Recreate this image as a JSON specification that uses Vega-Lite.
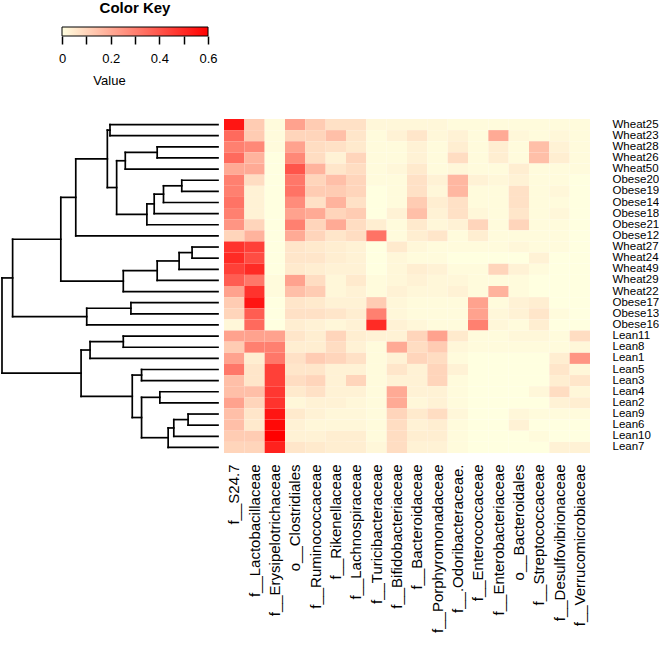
{
"$schema": "https://vega.github.io/schema/vega-lite/v6.json",
"padding": {"top": 0, "left": 0, "right": 0, "bottom": 0},
"background": "white",
"spacing": 31,
"config": {"view": {"stroke": null}, "font": "Liberation Sans", "axis": {"labelFont": "Liberation Sans", "titleFont": "Liberation Sans", "labelColor": "black", "titleColor": "black"}},
"datasets": {
"dendro": [
{"h1":3.25,"h2":3.25,"p1":0,"p2":1},{"h1":0,"h2":3.25,"p1":0,"p2":0},{"h1":0,"h2":3.25,"p1":1,"p2":1},
{"h1":1.83,"h2":1.83,"p1":2,"p2":3},{"h1":0,"h2":1.83,"p1":2,"p2":2},{"h1":0,"h2":1.83,"p1":3,"p2":3},
{"h1":2.79,"h2":2.79,"p1":2.5,"p2":4},{"h1":1.83,"h2":2.79,"p1":2.5,"p2":2.5},{"h1":0,"h2":2.79,"p1":4,"p2":4},
{"h1":1.09,"h2":1.09,"p1":5,"p2":6},{"h1":0,"h2":1.09,"p1":5,"p2":5},{"h1":0,"h2":1.09,"p1":6,"p2":6},
{"h1":1.64,"h2":1.64,"p1":5.5,"p2":7},{"h1":1.09,"h2":1.64,"p1":5.5,"p2":5.5},{"h1":0,"h2":1.64,"p1":7,"p2":7},
{"h1":1.92,"h2":1.92,"p1":6.25,"p2":8},{"h1":1.64,"h2":1.92,"p1":6.25,"p2":6.25},{"h1":0,"h2":1.92,"p1":8,"p2":8},
{"h1":2.14,"h2":2.14,"p1":7.125,"p2":9},{"h1":1.92,"h2":2.14,"p1":7.125,"p2":7.125},{"h1":0,"h2":2.14,"p1":9,"p2":9},
{"h1":3.05,"h2":3.05,"p1":3.25,"p2":8.0625},{"h1":2.79,"h2":3.05,"p1":3.25,"p2":3.25},{"h1":2.14,"h2":3.05,"p1":8.0625,"p2":8.0625},
{"h1":3.33,"h2":3.33,"p1":0.5,"p2":5.656},{"h1":3.25,"h2":3.33,"p1":0.5,"p2":0.5},{"h1":3.05,"h2":3.33,"p1":5.656,"p2":5.656},
{"h1":4.28,"h2":4.28,"p1":3.078,"p2":10},{"h1":3.33,"h2":4.28,"p1":3.078,"p2":3.078},{"h1":0,"h2":4.28,"p1":10,"p2":10},
{"h1":0.78,"h2":0.78,"p1":11,"p2":12},{"h1":0,"h2":0.78,"p1":11,"p2":11},{"h1":0,"h2":0.78,"p1":12,"p2":12},
{"h1":1.17,"h2":1.17,"p1":11.5,"p2":13},{"h1":0.78,"h2":1.17,"p1":11.5,"p2":11.5},{"h1":0,"h2":1.17,"p1":13,"p2":13},
{"h1":1.83,"h2":1.83,"p1":12.25,"p2":14},{"h1":1.17,"h2":1.83,"p1":12.25,"p2":12.25},{"h1":0,"h2":1.83,"p1":14,"p2":14},
{"h1":2.85,"h2":2.85,"p1":13.125,"p2":15},{"h1":1.83,"h2":2.85,"p1":13.125,"p2":13.125},{"h1":0,"h2":2.85,"p1":15,"p2":15},
{"h1":4.73,"h2":4.73,"p1":6.539,"p2":14.063},{"h1":4.28,"h2":4.73,"p1":6.539,"p2":6.539},{"h1":2.85,"h2":4.73,"p1":14.063,"p2":14.063},
{"h1":2.62,"h2":2.62,"p1":16,"p2":17},{"h1":0,"h2":2.62,"p1":16,"p2":16},{"h1":0,"h2":2.62,"p1":17,"p2":17},
{"h1":3.95,"h2":3.95,"p1":16.5,"p2":18},{"h1":2.62,"h2":3.95,"p1":16.5,"p2":16.5},{"h1":0,"h2":3.95,"p1":18,"p2":18},
{"h1":6.18,"h2":6.18,"p1":10.301,"p2":17.25},{"h1":4.73,"h2":6.18,"p1":10.301,"p2":10.301},{"h1":3.95,"h2":6.18,"p1":17.25,"p2":17.25},
{"h1":2.85,"h2":2.85,"p1":19,"p2":20},{"h1":0,"h2":2.85,"p1":19,"p2":19},{"h1":0,"h2":2.85,"p1":20,"p2":20},
{"h1":3.85,"h2":3.85,"p1":19.5,"p2":21},{"h1":2.85,"h2":3.85,"p1":19.5,"p2":19.5},{"h1":0,"h2":3.85,"p1":21,"p2":21},
{"h1":2.3,"h2":2.3,"p1":22,"p2":23},{"h1":0,"h2":2.3,"p1":22,"p2":22},{"h1":0,"h2":2.3,"p1":23,"p2":23},
{"h1":1.75,"h2":1.75,"p1":24,"p2":25},{"h1":0,"h2":1.75,"p1":24,"p2":24},{"h1":0,"h2":1.75,"p1":25,"p2":25},
{"h1":0.9,"h2":0.9,"p1":26,"p2":27},{"h1":0,"h2":0.9,"p1":26,"p2":26},{"h1":0,"h2":0.9,"p1":27,"p2":27},
{"h1":1.33,"h2":1.33,"p1":26.5,"p2":28},{"h1":0.9,"h2":1.33,"p1":26.5,"p2":26.5},{"h1":0,"h2":1.33,"p1":28,"p2":28},
{"h1":1.5,"h2":1.5,"p1":27.25,"p2":29},{"h1":1.33,"h2":1.5,"p1":27.25,"p2":27.25},{"h1":0,"h2":1.5,"p1":29,"p2":29},
{"h1":2.3,"h2":2.3,"p1":24.5,"p2":28.125},{"h1":1.75,"h2":2.3,"p1":24.5,"p2":24.5},{"h1":1.5,"h2":2.3,"p1":28.125,"p2":28.125},
{"h1":2.58,"h2":2.58,"p1":22.5,"p2":26.313},{"h1":2.3,"h2":2.58,"p1":22.5,"p2":22.5},{"h1":2.3,"h2":2.58,"p1":26.313,"p2":26.313},
{"h1":4.12,"h2":4.12,"p1":20.25,"p2":24.406},{"h1":3.85,"h2":4.12,"p1":20.25,"p2":20.25},{"h1":2.58,"h2":4.12,"p1":24.406,"p2":24.406},
{"h1":6.5,"h2":6.5,"p1":13.775,"p2":22.328},{"h1":6.18,"h2":6.5,"p1":13.775,"p2":13.775},{"h1":4.12,"h2":6.5,"p1":22.328,"p2":22.328}
],
"cells": [
{"s":"Wheat25","t":"f__S24.7","v":0.55},{"s":"Wheat25","t":"f__Lactobacillaceae","v":0.12},{"s":"Wheat25","t":"f__Erysipelotrichaceae","v":0.01},{"s":"Wheat25","t":"o__Clostridiales","v":0.22},{"s":"Wheat25","t":"f__Ruminococcaceae","v":0.12},{"s":"Wheat25","t":"f__Rikenellaceae","v":0.07},{"s":"Wheat25","t":"f__Lachnospiraceae","v":0.07},{"s":"Wheat25","t":"f__Turicibacteraceae","v":0.02},{"s":"Wheat25","t":"f__Bifidobacteriaceae","v":0.02},{"s":"Wheat25","t":"f__Bacteroidaceae","v":0.02},{"s":"Wheat25","t":"f__Porphyromonadaceae","v":0.02},{"s":"Wheat25","t":"f__.Odoribacteraceae.","v":0.01},{"s":"Wheat25","t":"f__Enterococcaceae","v":0.01},{"s":"Wheat25","t":"f__Enterobacteriaceae","v":0.01},{"s":"Wheat25","t":"o__Bacteroidales","v":0.01},{"s":"Wheat25","t":"f__Streptococcaceae","v":0.01},{"s":"Wheat25","t":"f__Desulfovibrionaceae","v":0.01},{"s":"Wheat25","t":"f__Verrucomicrobiaceae","v":0.01},
{"s":"Wheat23","t":"f__S24.7","v":0.35},{"s":"Wheat23","t":"f__Lactobacillaceae","v":0.12},{"s":"Wheat23","t":"f__Erysipelotrichaceae","v":0.01},{"s":"Wheat23","t":"o__Clostridiales","v":0.1},{"s":"Wheat23","t":"f__Ruminococcaceae","v":0.1},{"s":"Wheat23","t":"f__Rikenellaceae","v":0.15},{"s":"Wheat23","t":"f__Lachnospiraceae","v":0.06},{"s":"Wheat23","t":"f__Turicibacteraceae","v":0.01},{"s":"Wheat23","t":"f__Bifidobacteriaceae","v":0.03},{"s":"Wheat23","t":"f__Bacteroidaceae","v":0.06},{"s":"Wheat23","t":"f__Porphyromonadaceae","v":0.02},{"s":"Wheat23","t":"f__.Odoribacteraceae.","v":0.03},{"s":"Wheat23","t":"f__Enterococcaceae","v":0.01},{"s":"Wheat23","t":"f__Enterobacteriaceae","v":0.2},{"s":"Wheat23","t":"o__Bacteroidales","v":0.02},{"s":"Wheat23","t":"f__Streptococcaceae","v":0.01},{"s":"Wheat23","t":"f__Desulfovibrionaceae","v":0.02},{"s":"Wheat23","t":"f__Verrucomicrobiaceae","v":0.01},
{"s":"Wheat28","t":"f__S24.7","v":0.3},{"s":"Wheat28","t":"f__Lactobacillaceae","v":0.28},{"s":"Wheat28","t":"f__Erysipelotrichaceae","v":0.01},{"s":"Wheat28","t":"o__Clostridiales","v":0.22},{"s":"Wheat28","t":"f__Ruminococcaceae","v":0.08},{"s":"Wheat28","t":"f__Rikenellaceae","v":0.07},{"s":"Wheat28","t":"f__Lachnospiraceae","v":0.05},{"s":"Wheat28","t":"f__Turicibacteraceae","v":0.01},{"s":"Wheat28","t":"f__Bifidobacteriaceae","v":0.01},{"s":"Wheat28","t":"f__Bacteroidaceae","v":0.03},{"s":"Wheat28","t":"f__Porphyromonadaceae","v":0.01},{"s":"Wheat28","t":"f__.Odoribacteraceae.","v":0.04},{"s":"Wheat28","t":"f__Enterococcaceae","v":0.01},{"s":"Wheat28","t":"f__Enterobacteriaceae","v":0.04},{"s":"Wheat28","t":"o__Bacteroidales","v":0.01},{"s":"Wheat28","t":"f__Streptococcaceae","v":0.15},{"s":"Wheat28","t":"f__Desulfovibrionaceae","v":0.03},{"s":"Wheat28","t":"f__Verrucomicrobiaceae","v":0.01},
{"s":"Wheat26","t":"f__S24.7","v":0.35},{"s":"Wheat26","t":"f__Lactobacillaceae","v":0.18},{"s":"Wheat26","t":"f__Erysipelotrichaceae","v":0.0},{"s":"Wheat26","t":"o__Clostridiales","v":0.28},{"s":"Wheat26","t":"f__Ruminococcaceae","v":0.08},{"s":"Wheat26","t":"f__Rikenellaceae","v":0.03},{"s":"Wheat26","t":"f__Lachnospiraceae","v":0.1},{"s":"Wheat26","t":"f__Turicibacteraceae","v":0.01},{"s":"Wheat26","t":"f__Bifidobacteriaceae","v":0.01},{"s":"Wheat26","t":"f__Bacteroidaceae","v":0.03},{"s":"Wheat26","t":"f__Porphyromonadaceae","v":0.01},{"s":"Wheat26","t":"f__.Odoribacteraceae.","v":0.08},{"s":"Wheat26","t":"f__Enterococcaceae","v":0.01},{"s":"Wheat26","t":"f__Enterobacteriaceae","v":0.04},{"s":"Wheat26","t":"o__Bacteroidales","v":0.01},{"s":"Wheat26","t":"f__Streptococcaceae","v":0.15},{"s":"Wheat26","t":"f__Desulfovibrionaceae","v":0.04},{"s":"Wheat26","t":"f__Verrucomicrobiaceae","v":0.01},
{"s":"Wheat50","t":"f__S24.7","v":0.2},{"s":"Wheat50","t":"f__Lactobacillaceae","v":0.2},{"s":"Wheat50","t":"f__Erysipelotrichaceae","v":0.0},{"s":"Wheat50","t":"o__Clostridiales","v":0.4},{"s":"Wheat50","t":"f__Ruminococcaceae","v":0.18},{"s":"Wheat50","t":"f__Rikenellaceae","v":0.06},{"s":"Wheat50","t":"f__Lachnospiraceae","v":0.08},{"s":"Wheat50","t":"f__Turicibacteraceae","v":0.01},{"s":"Wheat50","t":"f__Bifidobacteriaceae","v":0.02},{"s":"Wheat50","t":"f__Bacteroidaceae","v":0.05},{"s":"Wheat50","t":"f__Porphyromonadaceae","v":0.01},{"s":"Wheat50","t":"f__.Odoribacteraceae.","v":0.02},{"s":"Wheat50","t":"f__Enterococcaceae","v":0.01},{"s":"Wheat50","t":"f__Enterobacteriaceae","v":0.01},{"s":"Wheat50","t":"o__Bacteroidales","v":0.04},{"s":"Wheat50","t":"f__Streptococcaceae","v":0.01},{"s":"Wheat50","t":"f__Desulfovibrionaceae","v":0.01},{"s":"Wheat50","t":"f__Verrucomicrobiaceae","v":0.01},
{"s":"Obese20","t":"f__S24.7","v":0.3},{"s":"Obese20","t":"f__Lactobacillaceae","v":0.08},{"s":"Obese20","t":"f__Erysipelotrichaceae","v":0.0},{"s":"Obese20","t":"o__Clostridiales","v":0.32},{"s":"Obese20","t":"f__Ruminococcaceae","v":0.1},{"s":"Obese20","t":"f__Rikenellaceae","v":0.15},{"s":"Obese20","t":"f__Lachnospiraceae","v":0.1},{"s":"Obese20","t":"f__Turicibacteraceae","v":0.01},{"s":"Obese20","t":"f__Bifidobacteriaceae","v":0.01},{"s":"Obese20","t":"f__Bacteroidaceae","v":0.07},{"s":"Obese20","t":"f__Porphyromonadaceae","v":0.03},{"s":"Obese20","t":"f__.Odoribacteraceae.","v":0.17},{"s":"Obese20","t":"f__Enterococcaceae","v":0.03},{"s":"Obese20","t":"f__Enterobacteriaceae","v":0.02},{"s":"Obese20","t":"o__Bacteroidales","v":0.03},{"s":"Obese20","t":"f__Streptococcaceae","v":0.01},{"s":"Obese20","t":"f__Desulfovibrionaceae","v":0.01},{"s":"Obese20","t":"f__Verrucomicrobiaceae","v":0.0},
{"s":"Obese19","t":"f__S24.7","v":0.3},{"s":"Obese19","t":"f__Lactobacillaceae","v":0.03},{"s":"Obese19","t":"f__Erysipelotrichaceae","v":0.0},{"s":"Obese19","t":"o__Clostridiales","v":0.33},{"s":"Obese19","t":"f__Ruminococcaceae","v":0.12},{"s":"Obese19","t":"f__Rikenellaceae","v":0.12},{"s":"Obese19","t":"f__Lachnospiraceae","v":0.1},{"s":"Obese19","t":"f__Turicibacteraceae","v":0.0},{"s":"Obese19","t":"f__Bifidobacteriaceae","v":0.01},{"s":"Obese19","t":"f__Bacteroidaceae","v":0.07},{"s":"Obese19","t":"f__Porphyromonadaceae","v":0.02},{"s":"Obese19","t":"f__.Odoribacteraceae.","v":0.17},{"s":"Obese19","t":"f__Enterococcaceae","v":0.01},{"s":"Obese19","t":"f__Enterobacteriaceae","v":0.01},{"s":"Obese19","t":"o__Bacteroidales","v":0.07},{"s":"Obese19","t":"f__Streptococcaceae","v":0.01},{"s":"Obese19","t":"f__Desulfovibrionaceae","v":0.02},{"s":"Obese19","t":"f__Verrucomicrobiaceae","v":0.0},
{"s":"Obese14","t":"f__S24.7","v":0.33},{"s":"Obese14","t":"f__Lactobacillaceae","v":0.03},{"s":"Obese14","t":"f__Erysipelotrichaceae","v":0.0},{"s":"Obese14","t":"o__Clostridiales","v":0.27},{"s":"Obese14","t":"f__Ruminococcaceae","v":0.07},{"s":"Obese14","t":"f__Rikenellaceae","v":0.18},{"s":"Obese14","t":"f__Lachnospiraceae","v":0.07},{"s":"Obese14","t":"f__Turicibacteraceae","v":0.0},{"s":"Obese14","t":"f__Bifidobacteriaceae","v":0.01},{"s":"Obese14","t":"f__Bacteroidaceae","v":0.12},{"s":"Obese14","t":"f__Porphyromonadaceae","v":0.04},{"s":"Obese14","t":"f__.Odoribacteraceae.","v":0.07},{"s":"Obese14","t":"f__Enterococcaceae","v":0.01},{"s":"Obese14","t":"f__Enterobacteriaceae","v":0.01},{"s":"Obese14","t":"o__Bacteroidales","v":0.07},{"s":"Obese14","t":"f__Streptococcaceae","v":0.01},{"s":"Obese14","t":"f__Desulfovibrionaceae","v":0.01},{"s":"Obese14","t":"f__Verrucomicrobiaceae","v":0.0},
{"s":"Obese18","t":"f__S24.7","v":0.3},{"s":"Obese18","t":"f__Lactobacillaceae","v":0.03},{"s":"Obese18","t":"f__Erysipelotrichaceae","v":0.0},{"s":"Obese18","t":"o__Clostridiales","v":0.22},{"s":"Obese18","t":"f__Ruminococcaceae","v":0.2},{"s":"Obese18","t":"f__Rikenellaceae","v":0.1},{"s":"Obese18","t":"f__Lachnospiraceae","v":0.12},{"s":"Obese18","t":"f__Turicibacteraceae","v":0.0},{"s":"Obese18","t":"f__Bifidobacteriaceae","v":0.03},{"s":"Obese18","t":"f__Bacteroidaceae","v":0.15},{"s":"Obese18","t":"f__Porphyromonadaceae","v":0.03},{"s":"Obese18","t":"f__.Odoribacteraceae.","v":0.07},{"s":"Obese18","t":"f__Enterococcaceae","v":0.02},{"s":"Obese18","t":"f__Enterobacteriaceae","v":0.01},{"s":"Obese18","t":"o__Bacteroidales","v":0.06},{"s":"Obese18","t":"f__Streptococcaceae","v":0.01},{"s":"Obese18","t":"f__Desulfovibrionaceae","v":0.02},{"s":"Obese18","t":"f__Verrucomicrobiaceae","v":0.0},
{"s":"Obese21","t":"f__S24.7","v":0.25},{"s":"Obese21","t":"f__Lactobacillaceae","v":0.1},{"s":"Obese21","t":"f__Erysipelotrichaceae","v":0.0},{"s":"Obese21","t":"o__Clostridiales","v":0.3},{"s":"Obese21","t":"f__Ruminococcaceae","v":0.1},{"s":"Obese21","t":"f__Rikenellaceae","v":0.2},{"s":"Obese21","t":"f__Lachnospiraceae","v":0.08},{"s":"Obese21","t":"f__Turicibacteraceae","v":0.04},{"s":"Obese21","t":"f__Bifidobacteriaceae","v":0.01},{"s":"Obese21","t":"f__Bacteroidaceae","v":0.05},{"s":"Obese21","t":"f__Porphyromonadaceae","v":0.02},{"s":"Obese21","t":"f__.Odoribacteraceae.","v":0.03},{"s":"Obese21","t":"f__Enterococcaceae","v":0.1},{"s":"Obese21","t":"f__Enterobacteriaceae","v":0.01},{"s":"Obese21","t":"o__Bacteroidales","v":0.1},{"s":"Obese21","t":"f__Streptococcaceae","v":0.01},{"s":"Obese21","t":"f__Desulfovibrionaceae","v":0.01},{"s":"Obese21","t":"f__Verrucomicrobiaceae","v":0.0},
{"s":"Obese12","t":"f__S24.7","v":0.1},{"s":"Obese12","t":"f__Lactobacillaceae","v":0.18},{"s":"Obese12","t":"f__Erysipelotrichaceae","v":0.0},{"s":"Obese12","t":"o__Clostridiales","v":0.2},{"s":"Obese12","t":"f__Ruminococcaceae","v":0.1},{"s":"Obese12","t":"f__Rikenellaceae","v":0.06},{"s":"Obese12","t":"f__Lachnospiraceae","v":0.08},{"s":"Obese12","t":"f__Turicibacteraceae","v":0.33},{"s":"Obese12","t":"f__Bifidobacteriaceae","v":0.01},{"s":"Obese12","t":"f__Bacteroidaceae","v":0.04},{"s":"Obese12","t":"f__Porphyromonadaceae","v":0.06},{"s":"Obese12","t":"f__.Odoribacteraceae.","v":0.01},{"s":"Obese12","t":"f__Enterococcaceae","v":0.04},{"s":"Obese12","t":"f__Enterobacteriaceae","v":0.01},{"s":"Obese12","t":"o__Bacteroidales","v":0.01},{"s":"Obese12","t":"f__Streptococcaceae","v":0.01},{"s":"Obese12","t":"f__Desulfovibrionaceae","v":0.01},{"s":"Obese12","t":"f__Verrucomicrobiaceae","v":0.0},
{"s":"Wheat27","t":"f__S24.7","v":0.48},{"s":"Wheat27","t":"f__Lactobacillaceae","v":0.45},{"s":"Wheat27","t":"f__Erysipelotrichaceae","v":0.0},{"s":"Wheat27","t":"o__Clostridiales","v":0.06},{"s":"Wheat27","t":"f__Ruminococcaceae","v":0.05},{"s":"Wheat27","t":"f__Rikenellaceae","v":0.04},{"s":"Wheat27","t":"f__Lachnospiraceae","v":0.03},{"s":"Wheat27","t":"f__Turicibacteraceae","v":0.0},{"s":"Wheat27","t":"f__Bifidobacteriaceae","v":0.05},{"s":"Wheat27","t":"f__Bacteroidaceae","v":0.02},{"s":"Wheat27","t":"f__Porphyromonadaceae","v":0.01},{"s":"Wheat27","t":"f__.Odoribacteraceae.","v":0.01},{"s":"Wheat27","t":"f__Enterococcaceae","v":0.01},{"s":"Wheat27","t":"f__Enterobacteriaceae","v":0.01},{"s":"Wheat27","t":"o__Bacteroidales","v":0.02},{"s":"Wheat27","t":"f__Streptococcaceae","v":0.01},{"s":"Wheat27","t":"f__Desulfovibrionaceae","v":0.01},{"s":"Wheat27","t":"f__Verrucomicrobiaceae","v":0.0},
{"s":"Wheat24","t":"f__S24.7","v":0.5},{"s":"Wheat24","t":"f__Lactobacillaceae","v":0.42},{"s":"Wheat24","t":"f__Erysipelotrichaceae","v":0.0},{"s":"Wheat24","t":"o__Clostridiales","v":0.06},{"s":"Wheat24","t":"f__Ruminococcaceae","v":0.06},{"s":"Wheat24","t":"f__Rikenellaceae","v":0.04},{"s":"Wheat24","t":"f__Lachnospiraceae","v":0.03},{"s":"Wheat24","t":"f__Turicibacteraceae","v":0.0},{"s":"Wheat24","t":"f__Bifidobacteriaceae","v":0.02},{"s":"Wheat24","t":"f__Bacteroidaceae","v":0.01},{"s":"Wheat24","t":"f__Porphyromonadaceae","v":0.01},{"s":"Wheat24","t":"f__.Odoribacteraceae.","v":0.0},{"s":"Wheat24","t":"f__Enterococcaceae","v":0.0},{"s":"Wheat24","t":"f__Enterobacteriaceae","v":0.0},{"s":"Wheat24","t":"o__Bacteroidales","v":0.0},{"s":"Wheat24","t":"f__Streptococcaceae","v":0.03},{"s":"Wheat24","t":"f__Desulfovibrionaceae","v":0.0},{"s":"Wheat24","t":"f__Verrucomicrobiaceae","v":0.0},
{"s":"Wheat49","t":"f__S24.7","v":0.45},{"s":"Wheat49","t":"f__Lactobacillaceae","v":0.5},{"s":"Wheat49","t":"f__Erysipelotrichaceae","v":0.0},{"s":"Wheat49","t":"o__Clostridiales","v":0.05},{"s":"Wheat49","t":"f__Ruminococcaceae","v":0.04},{"s":"Wheat49","t":"f__Rikenellaceae","v":0.03},{"s":"Wheat49","t":"f__Lachnospiraceae","v":0.03},{"s":"Wheat49","t":"f__Turicibacteraceae","v":0.0},{"s":"Wheat49","t":"f__Bifidobacteriaceae","v":0.02},{"s":"Wheat49","t":"f__Bacteroidaceae","v":0.04},{"s":"Wheat49","t":"f__Porphyromonadaceae","v":0.03},{"s":"Wheat49","t":"f__.Odoribacteraceae.","v":0.01},{"s":"Wheat49","t":"f__Enterococcaceae","v":0.01},{"s":"Wheat49","t":"f__Enterobacteriaceae","v":0.1},{"s":"Wheat49","t":"o__Bacteroidales","v":0.03},{"s":"Wheat49","t":"f__Streptococcaceae","v":0.01},{"s":"Wheat49","t":"f__Desulfovibrionaceae","v":0.0},{"s":"Wheat49","t":"f__Verrucomicrobiaceae","v":0.0},
{"s":"Wheat29","t":"f__S24.7","v":0.38},{"s":"Wheat29","t":"f__Lactobacillaceae","v":0.32},{"s":"Wheat29","t":"f__Erysipelotrichaceae","v":0.01},{"s":"Wheat29","t":"o__Clostridiales","v":0.22},{"s":"Wheat29","t":"f__Ruminococcaceae","v":0.08},{"s":"Wheat29","t":"f__Rikenellaceae","v":0.02},{"s":"Wheat29","t":"f__Lachnospiraceae","v":0.05},{"s":"Wheat29","t":"f__Turicibacteraceae","v":0.01},{"s":"Wheat29","t":"f__Bifidobacteriaceae","v":0.02},{"s":"Wheat29","t":"f__Bacteroidaceae","v":0.03},{"s":"Wheat29","t":"f__Porphyromonadaceae","v":0.02},{"s":"Wheat29","t":"f__.Odoribacteraceae.","v":0.02},{"s":"Wheat29","t":"f__Enterococcaceae","v":0.01},{"s":"Wheat29","t":"f__Enterobacteriaceae","v":0.01},{"s":"Wheat29","t":"o__Bacteroidales","v":0.01},{"s":"Wheat29","t":"f__Streptococcaceae","v":0.0},{"s":"Wheat29","t":"f__Desulfovibrionaceae","v":0.0},{"s":"Wheat29","t":"f__Verrucomicrobiaceae","v":0.0},
{"s":"Wheat22","t":"f__S24.7","v":0.22},{"s":"Wheat22","t":"f__Lactobacillaceae","v":0.48},{"s":"Wheat22","t":"f__Erysipelotrichaceae","v":0.01},{"s":"Wheat22","t":"o__Clostridiales","v":0.15},{"s":"Wheat22","t":"f__Ruminococcaceae","v":0.12},{"s":"Wheat22","t":"f__Rikenellaceae","v":0.02},{"s":"Wheat22","t":"f__Lachnospiraceae","v":0.03},{"s":"Wheat22","t":"f__Turicibacteraceae","v":0.01},{"s":"Wheat22","t":"f__Bifidobacteriaceae","v":0.03},{"s":"Wheat22","t":"f__Bacteroidaceae","v":0.02},{"s":"Wheat22","t":"f__Porphyromonadaceae","v":0.02},{"s":"Wheat22","t":"f__.Odoribacteraceae.","v":0.03},{"s":"Wheat22","t":"f__Enterococcaceae","v":0.01},{"s":"Wheat22","t":"f__Enterobacteriaceae","v":0.18},{"s":"Wheat22","t":"o__Bacteroidales","v":0.01},{"s":"Wheat22","t":"f__Streptococcaceae","v":0.0},{"s":"Wheat22","t":"f__Desulfovibrionaceae","v":0.0},{"s":"Wheat22","t":"f__Verrucomicrobiaceae","v":0.0},
{"s":"Obese17","t":"f__S24.7","v":0.12},{"s":"Obese17","t":"f__Lactobacillaceae","v":0.55},{"s":"Obese17","t":"f__Erysipelotrichaceae","v":0.0},{"s":"Obese17","t":"o__Clostridiales","v":0.06},{"s":"Obese17","t":"f__Ruminococcaceae","v":0.05},{"s":"Obese17","t":"f__Rikenellaceae","v":0.03},{"s":"Obese17","t":"f__Lachnospiraceae","v":0.03},{"s":"Obese17","t":"f__Turicibacteraceae","v":0.12},{"s":"Obese17","t":"f__Bifidobacteriaceae","v":0.02},{"s":"Obese17","t":"f__Bacteroidaceae","v":0.01},{"s":"Obese17","t":"f__Porphyromonadaceae","v":0.01},{"s":"Obese17","t":"f__.Odoribacteraceae.","v":0.01},{"s":"Obese17","t":"f__Enterococcaceae","v":0.22},{"s":"Obese17","t":"f__Enterobacteriaceae","v":0.01},{"s":"Obese17","t":"o__Bacteroidales","v":0.03},{"s":"Obese17","t":"f__Streptococcaceae","v":0.04},{"s":"Obese17","t":"f__Desulfovibrionaceae","v":0.0},{"s":"Obese17","t":"f__Verrucomicrobiaceae","v":0.0},
{"s":"Obese13","t":"f__S24.7","v":0.1},{"s":"Obese13","t":"f__Lactobacillaceae","v":0.38},{"s":"Obese13","t":"f__Erysipelotrichaceae","v":0.0},{"s":"Obese13","t":"o__Clostridiales","v":0.07},{"s":"Obese13","t":"f__Ruminococcaceae","v":0.07},{"s":"Obese13","t":"f__Rikenellaceae","v":0.06},{"s":"Obese13","t":"f__Lachnospiraceae","v":0.04},{"s":"Obese13","t":"f__Turicibacteraceae","v":0.3},{"s":"Obese13","t":"f__Bifidobacteriaceae","v":0.02},{"s":"Obese13","t":"f__Bacteroidaceae","v":0.01},{"s":"Obese13","t":"f__Porphyromonadaceae","v":0.01},{"s":"Obese13","t":"f__.Odoribacteraceae.","v":0.01},{"s":"Obese13","t":"f__Enterococcaceae","v":0.22},{"s":"Obese13","t":"f__Enterobacteriaceae","v":0.02},{"s":"Obese13","t":"o__Bacteroidales","v":0.03},{"s":"Obese13","t":"f__Streptococcaceae","v":0.06},{"s":"Obese13","t":"f__Desulfovibrionaceae","v":0.01},{"s":"Obese13","t":"f__Verrucomicrobiaceae","v":0.0},
{"s":"Obese16","t":"f__S24.7","v":0.02},{"s":"Obese16","t":"f__Lactobacillaceae","v":0.35},{"s":"Obese16","t":"f__Erysipelotrichaceae","v":0.0},{"s":"Obese16","t":"o__Clostridiales","v":0.04},{"s":"Obese16","t":"f__Ruminococcaceae","v":0.03},{"s":"Obese16","t":"f__Rikenellaceae","v":0.02},{"s":"Obese16","t":"f__Lachnospiraceae","v":0.03},{"s":"Obese16","t":"f__Turicibacteraceae","v":0.5},{"s":"Obese16","t":"f__Bifidobacteriaceae","v":0.03},{"s":"Obese16","t":"f__Bacteroidaceae","v":0.02},{"s":"Obese16","t":"f__Porphyromonadaceae","v":0.01},{"s":"Obese16","t":"f__.Odoribacteraceae.","v":0.01},{"s":"Obese16","t":"f__Enterococcaceae","v":0.3},{"s":"Obese16","t":"f__Enterobacteriaceae","v":0.02},{"s":"Obese16","t":"o__Bacteroidales","v":0.01},{"s":"Obese16","t":"f__Streptococcaceae","v":0.04},{"s":"Obese16","t":"f__Desulfovibrionaceae","v":0.0},{"s":"Obese16","t":"f__Verrucomicrobiaceae","v":0.0},
{"s":"Lean11","t":"f__S24.7","v":0.22},{"s":"Lean11","t":"f__Lactobacillaceae","v":0.22},{"s":"Lean11","t":"f__Erysipelotrichaceae","v":0.22},{"s":"Lean11","t":"o__Clostridiales","v":0.06},{"s":"Lean11","t":"f__Ruminococcaceae","v":0.04},{"s":"Lean11","t":"f__Rikenellaceae","v":0.1},{"s":"Lean11","t":"f__Lachnospiraceae","v":0.04},{"s":"Lean11","t":"f__Turicibacteraceae","v":0.03},{"s":"Lean11","t":"f__Bifidobacteriaceae","v":0.03},{"s":"Lean11","t":"f__Bacteroidaceae","v":0.1},{"s":"Lean11","t":"f__Porphyromonadaceae","v":0.22},{"s":"Lean11","t":"f__.Odoribacteraceae.","v":0.05},{"s":"Lean11","t":"f__Enterococcaceae","v":0.01},{"s":"Lean11","t":"f__Enterobacteriaceae","v":0.01},{"s":"Lean11","t":"o__Bacteroidales","v":0.02},{"s":"Lean11","t":"f__Streptococcaceae","v":0.02},{"s":"Lean11","t":"f__Desulfovibrionaceae","v":0.01},{"s":"Lean11","t":"f__Verrucomicrobiaceae","v":0.08},
{"s":"Lean8","t":"f__S24.7","v":0.12},{"s":"Lean8","t":"f__Lactobacillaceae","v":0.3},{"s":"Lean8","t":"f__Erysipelotrichaceae","v":0.3},{"s":"Lean8","t":"o__Clostridiales","v":0.04},{"s":"Lean8","t":"f__Ruminococcaceae","v":0.04},{"s":"Lean8","t":"f__Rikenellaceae","v":0.08},{"s":"Lean8","t":"f__Lachnospiraceae","v":0.03},{"s":"Lean8","t":"f__Turicibacteraceae","v":0.01},{"s":"Lean8","t":"f__Bifidobacteriaceae","v":0.2},{"s":"Lean8","t":"f__Bacteroidaceae","v":0.08},{"s":"Lean8","t":"f__Porphyromonadaceae","v":0.12},{"s":"Lean8","t":"f__.Odoribacteraceae.","v":0.02},{"s":"Lean8","t":"f__Enterococcaceae","v":0.01},{"s":"Lean8","t":"f__Enterobacteriaceae","v":0.01},{"s":"Lean8","t":"o__Bacteroidales","v":0.01},{"s":"Lean8","t":"f__Streptococcaceae","v":0.01},{"s":"Lean8","t":"f__Desulfovibrionaceae","v":0.01},{"s":"Lean8","t":"f__Verrucomicrobiaceae","v":0.02},
{"s":"Lean1","t":"f__S24.7","v":0.22},{"s":"Lean1","t":"f__Lactobacillaceae","v":0.04},{"s":"Lean1","t":"f__Erysipelotrichaceae","v":0.32},{"s":"Lean1","t":"o__Clostridiales","v":0.07},{"s":"Lean1","t":"f__Ruminococcaceae","v":0.12},{"s":"Lean1","t":"f__Rikenellaceae","v":0.1},{"s":"Lean1","t":"f__Lachnospiraceae","v":0.07},{"s":"Lean1","t":"f__Turicibacteraceae","v":0.01},{"s":"Lean1","t":"f__Bifidobacteriaceae","v":0.03},{"s":"Lean1","t":"f__Bacteroidaceae","v":0.1},{"s":"Lean1","t":"f__Porphyromonadaceae","v":0.08},{"s":"Lean1","t":"f__.Odoribacteraceae.","v":0.01},{"s":"Lean1","t":"f__Enterococcaceae","v":0.0},{"s":"Lean1","t":"f__Enterobacteriaceae","v":0.0},{"s":"Lean1","t":"o__Bacteroidales","v":0.0},{"s":"Lean1","t":"f__Streptococcaceae","v":0.0},{"s":"Lean1","t":"f__Desulfovibrionaceae","v":0.04},{"s":"Lean1","t":"f__Verrucomicrobiaceae","v":0.25},
{"s":"Lean5","t":"f__S24.7","v":0.32},{"s":"Lean5","t":"f__Lactobacillaceae","v":0.06},{"s":"Lean5","t":"f__Erysipelotrichaceae","v":0.45},{"s":"Lean5","t":"o__Clostridiales","v":0.06},{"s":"Lean5","t":"f__Ruminococcaceae","v":0.06},{"s":"Lean5","t":"f__Rikenellaceae","v":0.03},{"s":"Lean5","t":"f__Lachnospiraceae","v":0.03},{"s":"Lean5","t":"f__Turicibacteraceae","v":0.01},{"s":"Lean5","t":"f__Bifidobacteriaceae","v":0.06},{"s":"Lean5","t":"f__Bacteroidaceae","v":0.03},{"s":"Lean5","t":"f__Porphyromonadaceae","v":0.1},{"s":"Lean5","t":"f__.Odoribacteraceae.","v":0.03},{"s":"Lean5","t":"f__Enterococcaceae","v":0.0},{"s":"Lean5","t":"f__Enterobacteriaceae","v":0.0},{"s":"Lean5","t":"o__Bacteroidales","v":0.0},{"s":"Lean5","t":"f__Streptococcaceae","v":0.0},{"s":"Lean5","t":"f__Desulfovibrionaceae","v":0.06},{"s":"Lean5","t":"f__Verrucomicrobiaceae","v":0.02},
{"s":"Lean3","t":"f__S24.7","v":0.15},{"s":"Lean3","t":"f__Lactobacillaceae","v":0.06},{"s":"Lean3","t":"f__Erysipelotrichaceae","v":0.45},{"s":"Lean3","t":"o__Clostridiales","v":0.08},{"s":"Lean3","t":"f__Ruminococcaceae","v":0.1},{"s":"Lean3","t":"f__Rikenellaceae","v":0.03},{"s":"Lean3","t":"f__Lachnospiraceae","v":0.1},{"s":"Lean3","t":"f__Turicibacteraceae","v":0.01},{"s":"Lean3","t":"f__Bifidobacteriaceae","v":0.03},{"s":"Lean3","t":"f__Bacteroidaceae","v":0.03},{"s":"Lean3","t":"f__Porphyromonadaceae","v":0.1},{"s":"Lean3","t":"f__.Odoribacteraceae.","v":0.01},{"s":"Lean3","t":"f__Enterococcaceae","v":0.0},{"s":"Lean3","t":"f__Enterobacteriaceae","v":0.0},{"s":"Lean3","t":"o__Bacteroidales","v":0.0},{"s":"Lean3","t":"f__Streptococcaceae","v":0.0},{"s":"Lean3","t":"f__Desulfovibrionaceae","v":0.04},{"s":"Lean3","t":"f__Verrucomicrobiaceae","v":0.06},
{"s":"Lean4","t":"f__S24.7","v":0.15},{"s":"Lean4","t":"f__Lactobacillaceae","v":0.15},{"s":"Lean4","t":"f__Erysipelotrichaceae","v":0.47},{"s":"Lean4","t":"o__Clostridiales","v":0.05},{"s":"Lean4","t":"f__Ruminococcaceae","v":0.07},{"s":"Lean4","t":"f__Rikenellaceae","v":0.03},{"s":"Lean4","t":"f__Lachnospiraceae","v":0.03},{"s":"Lean4","t":"f__Turicibacteraceae","v":0.01},{"s":"Lean4","t":"f__Bifidobacteriaceae","v":0.2},{"s":"Lean4","t":"f__Bacteroidaceae","v":0.03},{"s":"Lean4","t":"f__Porphyromonadaceae","v":0.03},{"s":"Lean4","t":"f__.Odoribacteraceae.","v":0.01},{"s":"Lean4","t":"f__Enterococcaceae","v":0.0},{"s":"Lean4","t":"f__Enterobacteriaceae","v":0.0},{"s":"Lean4","t":"o__Bacteroidales","v":0.0},{"s":"Lean4","t":"f__Streptococcaceae","v":0.02},{"s":"Lean4","t":"f__Desulfovibrionaceae","v":0.08},{"s":"Lean4","t":"f__Verrucomicrobiaceae","v":0.02},
{"s":"Lean2","t":"f__S24.7","v":0.22},{"s":"Lean2","t":"f__Lactobacillaceae","v":0.1},{"s":"Lean2","t":"f__Erysipelotrichaceae","v":0.48},{"s":"Lean2","t":"o__Clostridiales","v":0.02},{"s":"Lean2","t":"f__Ruminococcaceae","v":0.03},{"s":"Lean2","t":"f__Rikenellaceae","v":0.03},{"s":"Lean2","t":"f__Lachnospiraceae","v":0.02},{"s":"Lean2","t":"f__Turicibacteraceae","v":0.01},{"s":"Lean2","t":"f__Bifidobacteriaceae","v":0.2},{"s":"Lean2","t":"f__Bacteroidaceae","v":0.02},{"s":"Lean2","t":"f__Porphyromonadaceae","v":0.03},{"s":"Lean2","t":"f__.Odoribacteraceae.","v":0.01},{"s":"Lean2","t":"f__Enterococcaceae","v":0.0},{"s":"Lean2","t":"f__Enterobacteriaceae","v":0.0},{"s":"Lean2","t":"o__Bacteroidales","v":0.0},{"s":"Lean2","t":"f__Streptococcaceae","v":0.0},{"s":"Lean2","t":"f__Desulfovibrionaceae","v":0.03},{"s":"Lean2","t":"f__Verrucomicrobiaceae","v":0.04},
{"s":"Lean9","t":"f__S24.7","v":0.15},{"s":"Lean9","t":"f__Lactobacillaceae","v":0.06},{"s":"Lean9","t":"f__Erysipelotrichaceae","v":0.55},{"s":"Lean9","t":"o__Clostridiales","v":0.05},{"s":"Lean9","t":"f__Ruminococcaceae","v":0.03},{"s":"Lean9","t":"f__Rikenellaceae","v":0.02},{"s":"Lean9","t":"f__Lachnospiraceae","v":0.02},{"s":"Lean9","t":"f__Turicibacteraceae","v":0.01},{"s":"Lean9","t":"f__Bifidobacteriaceae","v":0.1},{"s":"Lean9","t":"f__Bacteroidaceae","v":0.05},{"s":"Lean9","t":"f__Porphyromonadaceae","v":0.08},{"s":"Lean9","t":"f__.Odoribacteraceae.","v":0.02},{"s":"Lean9","t":"f__Enterococcaceae","v":0.0},{"s":"Lean9","t":"f__Enterobacteriaceae","v":0.0},{"s":"Lean9","t":"o__Bacteroidales","v":0.02},{"s":"Lean9","t":"f__Streptococcaceae","v":0.01},{"s":"Lean9","t":"f__Desulfovibrionaceae","v":0.01},{"s":"Lean9","t":"f__Verrucomicrobiaceae","v":0.01},
{"s":"Lean6","t":"f__S24.7","v":0.15},{"s":"Lean6","t":"f__Lactobacillaceae","v":0.05},{"s":"Lean6","t":"f__Erysipelotrichaceae","v":0.58},{"s":"Lean6","t":"o__Clostridiales","v":0.03},{"s":"Lean6","t":"f__Ruminococcaceae","v":0.02},{"s":"Lean6","t":"f__Rikenellaceae","v":0.02},{"s":"Lean6","t":"f__Lachnospiraceae","v":0.02},{"s":"Lean6","t":"f__Turicibacteraceae","v":0.01},{"s":"Lean6","t":"f__Bifidobacteriaceae","v":0.08},{"s":"Lean6","t":"f__Bacteroidaceae","v":0.03},{"s":"Lean6","t":"f__Porphyromonadaceae","v":0.04},{"s":"Lean6","t":"f__.Odoribacteraceae.","v":0.01},{"s":"Lean6","t":"f__Enterococcaceae","v":0.0},{"s":"Lean6","t":"f__Enterobacteriaceae","v":0.0},{"s":"Lean6","t":"o__Bacteroidales","v":0.03},{"s":"Lean6","t":"f__Streptococcaceae","v":0.0},{"s":"Lean6","t":"f__Desulfovibrionaceae","v":0.0},{"s":"Lean6","t":"f__Verrucomicrobiaceae","v":0.0},
{"s":"Lean10","t":"f__S24.7","v":0.12},{"s":"Lean10","t":"f__Lactobacillaceae","v":0.12},{"s":"Lean10","t":"f__Erysipelotrichaceae","v":0.6},{"s":"Lean10","t":"o__Clostridiales","v":0.03},{"s":"Lean10","t":"f__Ruminococcaceae","v":0.03},{"s":"Lean10","t":"f__Rikenellaceae","v":0.04},{"s":"Lean10","t":"f__Lachnospiraceae","v":0.04},{"s":"Lean10","t":"f__Turicibacteraceae","v":0.01},{"s":"Lean10","t":"f__Bifidobacteriaceae","v":0.08},{"s":"Lean10","t":"f__Bacteroidaceae","v":0.04},{"s":"Lean10","t":"f__Porphyromonadaceae","v":0.04},{"s":"Lean10","t":"f__.Odoribacteraceae.","v":0.01},{"s":"Lean10","t":"f__Enterococcaceae","v":0.0},{"s":"Lean10","t":"f__Enterobacteriaceae","v":0.0},{"s":"Lean10","t":"o__Bacteroidales","v":0.0},{"s":"Lean10","t":"f__Streptococcaceae","v":0.01},{"s":"Lean10","t":"f__Desulfovibrionaceae","v":0.0},{"s":"Lean10","t":"f__Verrucomicrobiaceae","v":0.0},
{"s":"Lean7","t":"f__S24.7","v":0.1},{"s":"Lean7","t":"f__Lactobacillaceae","v":0.1},{"s":"Lean7","t":"f__Erysipelotrichaceae","v":0.52},{"s":"Lean7","t":"o__Clostridiales","v":0.06},{"s":"Lean7","t":"f__Ruminococcaceae","v":0.05},{"s":"Lean7","t":"f__Rikenellaceae","v":0.04},{"s":"Lean7","t":"f__Lachnospiraceae","v":0.04},{"s":"Lean7","t":"f__Turicibacteraceae","v":0.02},{"s":"Lean7","t":"f__Bifidobacteriaceae","v":0.08},{"s":"Lean7","t":"f__Bacteroidaceae","v":0.03},{"s":"Lean7","t":"f__Porphyromonadaceae","v":0.03},{"s":"Lean7","t":"f__.Odoribacteraceae.","v":0.01},{"s":"Lean7","t":"f__Enterococcaceae","v":0.0},{"s":"Lean7","t":"f__Enterobacteriaceae","v":0.0},{"s":"Lean7","t":"o__Bacteroidales","v":0.0},{"s":"Lean7","t":"f__Streptococcaceae","v":0.0},{"s":"Lean7","t":"f__Desulfovibrionaceae","v":0.03},{"s":"Lean7","t":"f__Verrucomicrobiaceae","v":0.03}
]
},
"vconcat": [
{
"width": 218,
"height": 9,
"title": {"text": "Color Key", "fontSize": 15, "fontWeight": "bold", "font": "Liberation Sans", "color": "black", "anchor": "middle", "dx": 26, "baseline": "bottom", "offset": -4},
"data": {"values": [{"lo": 0, "hi": 0.6}]},
"mark": {"type": "rect", "stroke": "black", "strokeWidth": 1, "fill": {"gradient": "linear", "x1": 0, "y1": 0, "x2": 1, "y2": 0, "stops": [{"offset": 0, "color": "#FFFFE0"}, {"offset": 1, "color": "#FF0000"}]}},
"encoding": {
"x": {"field": "lo", "type": "quantitative", "title": "Value", "scale": {"domain": [-0.2548, 0.641], "nice": false, "zero": false},
"axis": {"values": [0, 0.1, 0.2, 0.3, 0.4, 0.5, 0.6], "format": "~g", "labelExpr": "indexof(['0','0.2','0.4','0.6'], datum.label) >= 0 ? datum.label : ''", "domain": false, "grid": false, "tickSize": 8, "tickColor": "black", "tickWidth": 1.5, "labelFontSize": 13, "labelPadding": 8, "labelOverlap": false, "labelFlush": false, "titleFontSize": 13, "titleFontWeight": "normal", "titlePadding": 9}},
"x2": {"field": "hi"}
}
},
{
"hconcat": [
{
"width": 218,
"height": 334,
"data": {"name": "dendro"},
"mark": {"type": "rule", "color": "black", "strokeWidth": 1.7, "strokeCap": "square"},
"encoding": {
"x": {"field": "h1", "type": "quantitative", "scale": {"domain": [0, 6.56], "reverse": true, "nice": false, "zero": false}, "axis": null},
"x2": {"field": "h2"},
"y": {"field": "p1", "type": "quantitative", "scale": {"domain": [-0.5, 29.5], "reverse": true, "nice": false, "zero": false}, "axis": null},
"y2": {"field": "p2"}
}
},
{
"width": 366,
"height": 334,
"data": {"name": "cells"},
"mark": {"type": "rect"},
"encoding": {
"x": {"field": "t", "type": "nominal", "sort": ["f__S24.7","f__Lactobacillaceae","f__Erysipelotrichaceae","o__Clostridiales","f__Ruminococcaceae","f__Rikenellaceae","f__Lachnospiraceae","f__Turicibacteraceae","f__Bifidobacteriaceae","f__Bacteroidaceae","f__Porphyromonadaceae","f__.Odoribacteraceae.","f__Enterococcaceae","f__Enterobacteriaceae","o__Bacteroidales","f__Streptococcaceae","f__Desulfovibrionaceae","f__Verrucomicrobiaceae"],
"scale": {"paddingInner": 0, "paddingOuter": 0},
"axis": {"orient": "bottom", "title": null, "labelAngle": -90, "ticks": false, "domain": false, "labelPadding": 11, "labelFontSize": 15, "labelLimit": 0}},
"y": {"field": "s", "type": "nominal", "sort": ["Wheat25","Wheat23","Wheat28","Wheat26","Wheat50","Obese20","Obese19","Obese14","Obese18","Obese21","Obese12","Wheat27","Wheat24","Wheat49","Wheat29","Wheat22","Obese17","Obese13","Obese16","Lean11","Lean8","Lean1","Lean5","Lean3","Lean4","Lean2","Lean9","Lean6","Lean10","Lean7"],
"scale": {"paddingInner": 0, "paddingOuter": 0},
"axis": {"orient": "right", "title": null, "ticks": false, "domain": false, "labelPadding": 22, "labelFontSize": 11.5}},
"fill": {"field": "v", "type": "quantitative", "scale": {"domain": [0, 0.6], "range": ["#FFFFE0", "#FF0000"], "interpolate": "rgb"}, "legend": null}
}
}
],
"spacing": 4
}
]
}
